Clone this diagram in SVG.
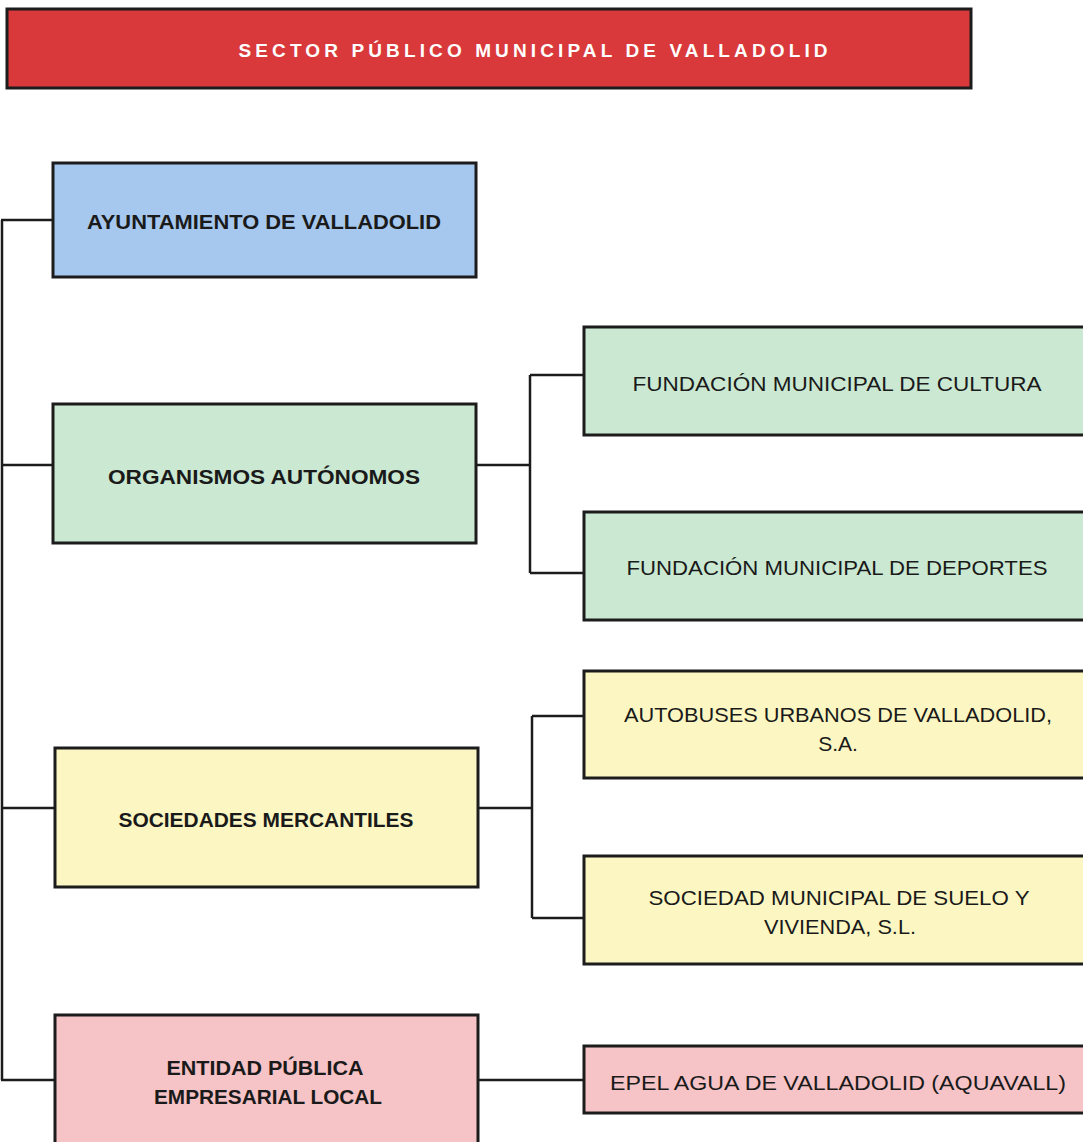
<svg xmlns="http://www.w3.org/2000/svg" width="1083" height="1142" viewBox="0 0 1083 1142">
<style>
.box{stroke:#1c1c1c;stroke-width:3}
.red{fill:#d9393b}
.blue{fill:#a6c8ef}
.green{fill:#cbe9d2}
.yellow{fill:#fcf7c2}
.pink{fill:#f6c3c6}
.b{font-family:"Liberation Sans",Arial,sans-serif;font-weight:bold;font-size:21px;fill:#1a1a1a;text-anchor:middle}
.r{font-family:"Liberation Sans",Arial,sans-serif;font-size:21px;fill:#1a1a1a;text-anchor:middle}
.t{font-family:"Liberation Sans",Arial,sans-serif;font-weight:bold;font-size:19px;fill:#ffffff;text-anchor:middle}
.c{fill:none;stroke:#1c1c1c;stroke-width:2.5}
</style>
<rect width="1083" height="1142" fill="#ffffff"/>
<g id="connectors">
<path class="c" d="M2 220 V1080"/>
<path class="c" d="M1 220 H53 M1 465 H53 M1 808 H55 M1 1080 H55"/>
<path class="c" d="M476 465 H530 M530 375 V573 M530 375 H584 M530 573 H584"/>
<path class="c" d="M478 808 H532 M532 716 V918 M532 716 H584 M532 918 H584"/>
<path class="c" d="M478 1080 H584"/>
</g>
<g id="title">
<rect class="box red" x="7" y="9" width="964" height="79"/>
<text class="t" x="533" y="57" textLength="589" lengthAdjust="spacing">SECTOR PÚBLICO MUNICIPAL DE VALLADOLID</text>
</g>
<g id="ayuntamiento">
<rect class="box blue" x="53" y="163" width="423" height="114"/>
<text class="b" x="264" y="229" textLength="354" lengthAdjust="spacingAndGlyphs">AYUNTAMIENTO DE VALLADOLID</text>
</g>
<g id="organismos">
<rect class="box green" x="53" y="404" width="423" height="139"/>
<text class="b" x="264" y="484" textLength="312" lengthAdjust="spacingAndGlyphs">ORGANISMOS AUTÓNOMOS</text>
</g>
<g id="cultura">
<rect class="box green" x="584" y="327" width="502" height="108"/>
<text class="r" x="837" y="391" textLength="409" lengthAdjust="spacingAndGlyphs">FUNDACIÓN MUNICIPAL DE CULTURA</text>
</g>
<g id="deportes">
<rect class="box green" x="584" y="512" width="502" height="108"/>
<text class="r" x="837" y="575" textLength="421" lengthAdjust="spacingAndGlyphs">FUNDACIÓN MUNICIPAL DE DEPORTES</text>
</g>
<g id="sociedades">
<rect class="box yellow" x="55" y="748" width="423" height="139"/>
<text class="b" x="266" y="827" textLength="295" lengthAdjust="spacingAndGlyphs">SOCIEDADES MERCANTILES</text>
</g>
<g id="autobuses">
<rect class="box yellow" x="584" y="671" width="502" height="107"/>
<text class="r" x="838" y="722" textLength="428" lengthAdjust="spacingAndGlyphs">AUTOBUSES URBANOS DE VALLADOLID,</text>
<text class="r" x="838" y="751">S.A.</text>
</g>
<g id="suelo">
<rect class="box yellow" x="584" y="856" width="502" height="108"/>
<text class="r" x="839" y="905" textLength="381" lengthAdjust="spacingAndGlyphs">SOCIEDAD MUNICIPAL DE SUELO Y</text>
<text class="r" x="840" y="934" textLength="152" lengthAdjust="spacingAndGlyphs">VIVIENDA, S.L.</text>
</g>
<g id="entidad">
<rect class="box pink" x="55" y="1015" width="423" height="140"/>
<text class="b" x="265" y="1075" textLength="197" lengthAdjust="spacingAndGlyphs">ENTIDAD PÚBLICA</text>
<text class="b" x="268" y="1104" textLength="228" lengthAdjust="spacingAndGlyphs">EMPRESARIAL LOCAL</text>
</g>
<g id="epel">
<rect class="box pink" x="584" y="1046" width="502" height="67"/>
<text class="r" x="838" y="1090" textLength="456" lengthAdjust="spacingAndGlyphs">EPEL AGUA DE VALLADOLID (AQUAVALL)</text>
</g>
</svg>
